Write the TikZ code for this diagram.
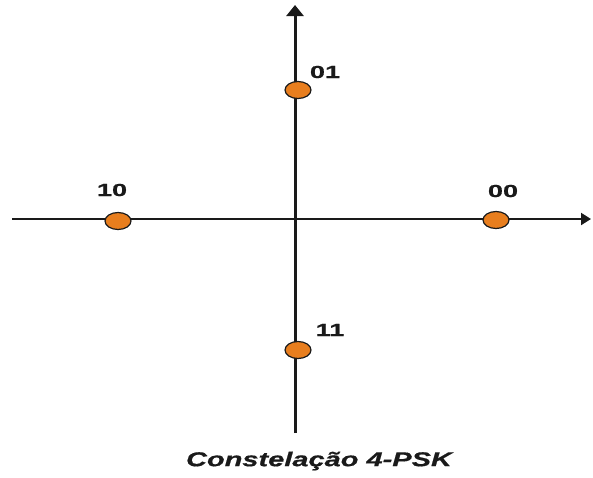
\documentclass[tikz,border=0pt]{standalone}
\usepackage{fontspec}
\setmainfont{Liberation Sans}
\newfontfamily\heavyfont[FakeBold=0.6]{Liberation Sans}
\usetikzlibrary{arrows.meta,shapes.geometric}
\definecolor{pt}{HTML}{E87E1E}
\definecolor{ax}{HTML}{1A1A1A}
\begin{document}
\begin{tikzpicture}[x=1pt,y=-1pt,
  haxis/.style={draw=ax,line width=2pt,-{Triangle[length=10pt,width=12pt]}},
  vaxis/.style={draw=ax,line width=3pt,-{Triangle[length=11pt,width=17pt]}},
  sym/.style={ellipse,draw=ax,line width=1.2pt,fill=pt,minimum width=26pt,minimum height=17pt,inner sep=0pt},
  lbl/.style={font=\heavyfont\bfseries\fontsize{17.5}{18}\selectfont,text=ax,inner sep=0pt},
  captxt/.style={font=\heavyfont\bfseries\itshape\fontsize{20}{20}\selectfont,text=ax,inner sep=0pt}]
\useasboundingbox (0,0) rectangle (593,477);
\coordinate (xl) at (12,219);
\coordinate (xr) at (591,219);
\coordinate (yb) at (295,433);
\coordinate (yt) at (295,5);
\draw[haxis] (xl) -- (xr);
\draw[vaxis] (yb) -- (yt);
\node[sym] (s01) at (298,90) {};
\node[sym] (s10) at (118,221) {};
\node[sym] (s00) at (496,220) {};
\node[sym] (s11) at (298,350) {};
\node[lbl] (l01) at (325,72) {\scalebox{1.55}[1]{01}};
\node[lbl] (l10) at (112,190) {\scalebox{1.55}[1]{10}};
\node[lbl] (l00) at (503,191) {\scalebox{1.55}[1]{00}};
\node[lbl] (l11) at (330,330) {\scalebox{1.55}[1]{11}};
\node[captxt] (c) at (319,461) {\scalebox{1.45}[1]{Constelação 4-PSK}};
\end{tikzpicture}
\end{document}
